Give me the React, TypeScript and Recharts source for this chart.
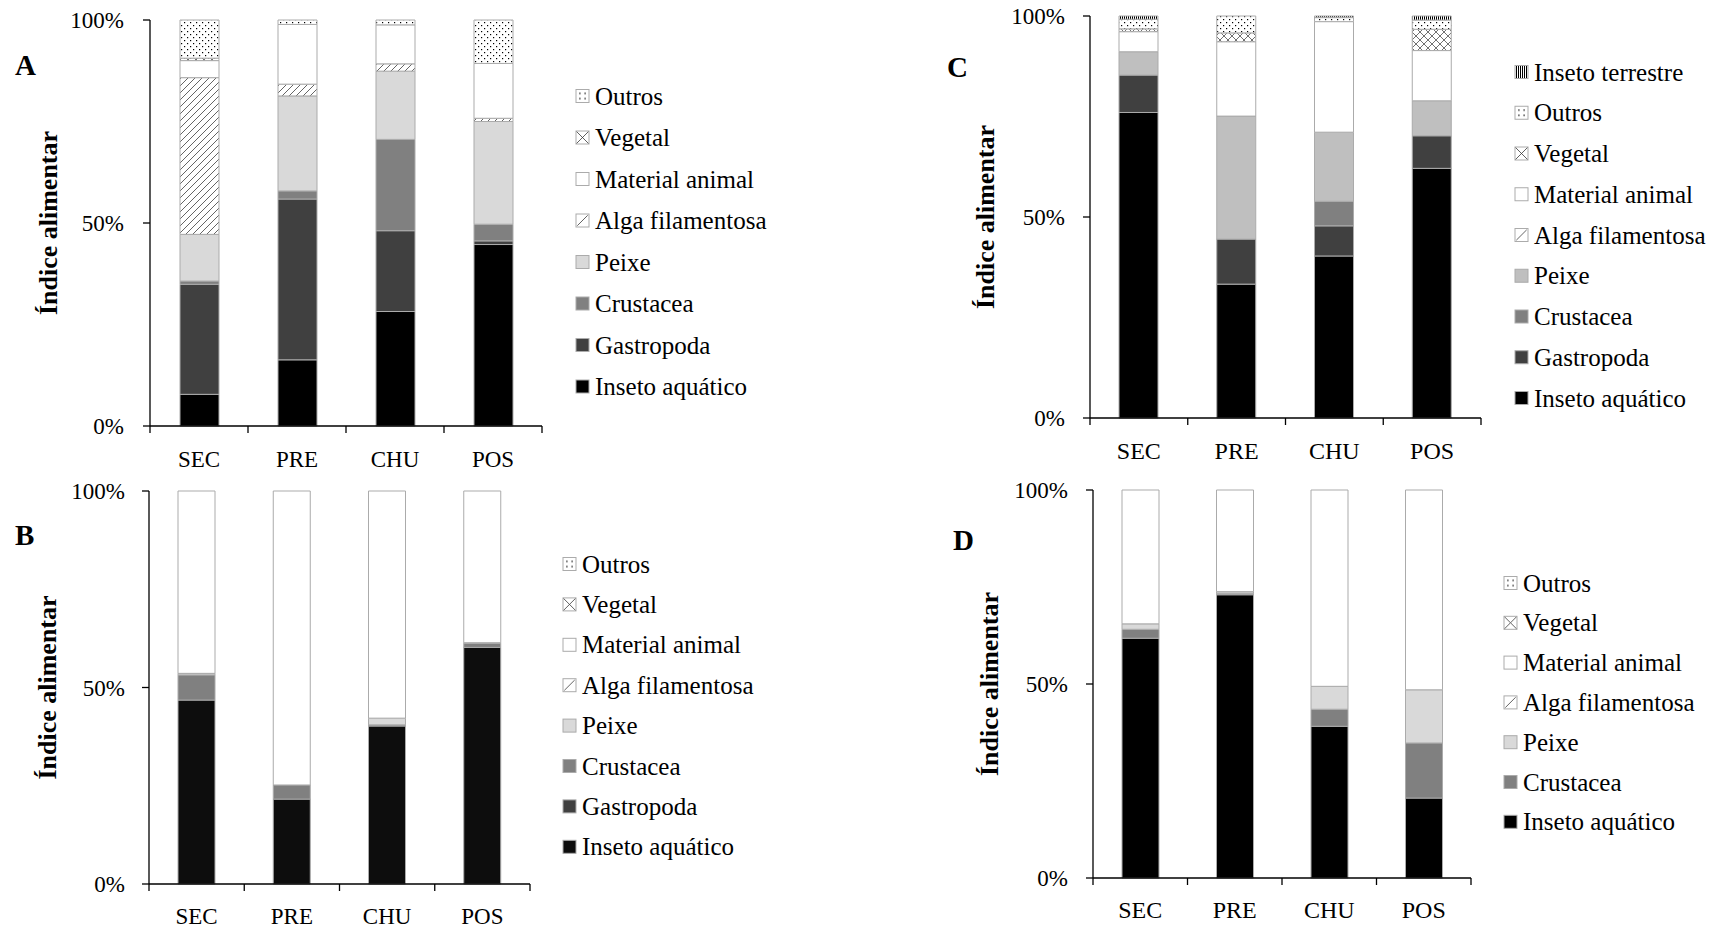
import React from 'react';
import { BarChart, Bar, XAxis, YAxis } from 'recharts';

const FONT = "'Liberation Serif', 'Times New Roman', Times, serif";

const CATEGORIES = ['SEC', 'PRE', 'CHU', 'POS'];
const Y_TICKS = [0, 50, 100];
const Y_TITLE = 'Índice alimentar';

// Panel A
const A_INSETO = [7.8, 16.3, 28.2, 44.7];
const A_GASTROPODA = [27.1, 39.6, 19.9, 0.9];
const A_CRUSTACEA = [0.8, 2.0, 22.5, 4.1];
const A_PEIXE = [11.5, 23.4, 16.8, 25.3];
const A_ALGA = [38.6, 2.9, 1.8, 0.8];
const A_MATERIAL = [4.2, 14.7, 9.6, 13.5];
const A_VEGETAL = [0.6, 0, 0, 0];
const A_OUTROS = [9.4, 1.1, 1.2, 10.7];

// Panel B
const B_INSETO = [46.8, 21.6, 40.2, 60.2];
const B_GASTROPODA = [0, 0, 0, 0];
const B_CRUSTACEA = [6.4, 3.6, 0.3, 1.0];
const B_PEIXE = [0.4, 0, 1.7, 0.2];
const B_ALGA = [0, 0, 0, 0];
const B_MATERIAL = [46.4, 74.8, 57.8, 38.6];
const B_VEGETAL = [0, 0, 0, 0];
const B_OUTROS = [0, 0, 0, 0];

// Panel C
const C_INSETO = [76.0, 33.3, 40.3, 62.1];
const C_GASTROPODA = [9.3, 11.2, 7.5, 8.1];
const C_CRUSTACEA = [0, 0, 6.1, 0];
const C_PEIXE = [5.8, 30.6, 17.2, 8.7];
const C_ALGA = [0, 0, 0, 0];
const C_MATERIAL = [5.0, 18.5, 27.5, 12.5];
const C_VEGETAL = [0.7, 2.2, 0, 5.3];
const C_OUTROS = [2.4, 4.2, 1.0, 2.3];
const C_TERRESTRE = [0.8, 0, 0.4, 1.0];

// Panel D
const D_INSETO = [61.8, 73.0, 39.1, 20.6];
const D_CRUSTACEA = [2.3, 0.4, 4.4, 14.2];
const D_PEIXE = [1.4, 0.4, 5.9, 13.7];
const D_ALGA = [0, 0, 0, 0];
const D_MATERIAL = [34.5, 26.2, 50.6, 51.5];
const D_VEGETAL = [0, 0, 0, 0];
const D_OUTROS = [0, 0, 0, 0];

const DOTS = 'url(#pat-dots)';
const CROSS = 'url(#pat-cross)';
const DIAG = 'url(#pat-diag)';
const VERT = 'url(#pat-vert)';
const EDGE = '#ababab';

type Series = { key: string; name: string; values: number[]; fill: string; legendFill?: string };

const A_SERIES: Series[] = [
  { key: 'inseto', name: 'Inseto aquático', values: A_INSETO, fill: '#000000' },
  { key: 'gastropoda', name: 'Gastropoda', values: A_GASTROPODA, fill: '#404040' },
  { key: 'crustacea', name: 'Crustacea', values: A_CRUSTACEA, fill: '#808080' },
  { key: 'peixe', name: 'Peixe', values: A_PEIXE, fill: '#d9d9d9' },
  { key: 'alga', name: 'Alga filamentosa', values: A_ALGA, fill: DIAG },
  { key: 'material', name: 'Material animal', values: A_MATERIAL, fill: '#ffffff' },
  { key: 'vegetal', name: 'Vegetal', values: A_VEGETAL, fill: CROSS },
  { key: 'outros', name: 'Outros', values: A_OUTROS, fill: DOTS },
];

const B_SERIES: Series[] = [
  { key: 'inseto', name: 'Inseto aquático', values: B_INSETO, fill: '#0d0d0d' },
  { key: 'gastropoda', name: 'Gastropoda', values: B_GASTROPODA, fill: '#404040' },
  { key: 'crustacea', name: 'Crustacea', values: B_CRUSTACEA, fill: '#808080' },
  { key: 'peixe', name: 'Peixe', values: B_PEIXE, fill: '#d9d9d9' },
  { key: 'alga', name: 'Alga filamentosa', values: B_ALGA, fill: DIAG },
  { key: 'material', name: 'Material animal', values: B_MATERIAL, fill: '#ffffff' },
  { key: 'vegetal', name: 'Vegetal', values: B_VEGETAL, fill: CROSS },
  { key: 'outros', name: 'Outros', values: B_OUTROS, fill: DOTS },
];

const C_SERIES: Series[] = [
  { key: 'inseto', name: 'Inseto aquático', values: C_INSETO, fill: '#000000' },
  { key: 'gastropoda', name: 'Gastropoda', values: C_GASTROPODA, fill: '#404040' },
  { key: 'crustacea', name: 'Crustacea', values: C_CRUSTACEA, fill: '#808080' },
  { key: 'peixe', name: 'Peixe', values: C_PEIXE, fill: '#bfbfbf' },
  { key: 'alga', name: 'Alga filamentosa', values: C_ALGA, fill: DIAG },
  { key: 'material', name: 'Material animal', values: C_MATERIAL, fill: '#ffffff' },
  { key: 'vegetal', name: 'Vegetal', values: C_VEGETAL, fill: CROSS },
  { key: 'outros', name: 'Outros', values: C_OUTROS, fill: DOTS },
  { key: 'terrestre', name: 'Inseto terrestre', values: C_TERRESTRE, fill: VERT },
];

const D_SERIES: Series[] = [
  { key: 'inseto', name: 'Inseto aquático', values: D_INSETO, fill: '#000000' },
  { key: 'crustacea', name: 'Crustacea', values: D_CRUSTACEA, fill: '#808080' },
  { key: 'peixe', name: 'Peixe', values: D_PEIXE, fill: '#d9d9d9' },
  { key: 'alga', name: 'Alga filamentosa', values: D_ALGA, fill: DIAG },
  { key: 'material', name: 'Material animal', values: D_MATERIAL, fill: '#ffffff' },
  { key: 'vegetal', name: 'Vegetal', values: D_VEGETAL, fill: CROSS },
  { key: 'outros', name: 'Outros', values: D_OUTROS, fill: DOTS },
];

const LEGEND_FILL: Record<string, string> = {
  [DIAG]: 'url(#leg-diag)',
  [CROSS]: 'url(#leg-cross)',
  [DOTS]: 'url(#leg-dots)',
};

type Panel = {
  letter: string;
  series: Series[];
  box: { left: number; top: number; width: number; height: number };
  plot: { l: number; t: number; r: number; b: number };
  barSize: number;
  yMargin: number;
  xFont: number;
  xLabelDy: number;
  titleX: number;
  letterPos: { x: number; y: number };
  legend: { x: number; y0: number; step: number };
};

const PANELS: Panel[] = [
  {
    letter: 'A', series: A_SERIES,
    box: { left: 0, top: 0, width: 560, height: 475 },
    plot: { l: 150, t: 20, r: 542, b: 426 },
    barSize: 39, yMargin: 19, xFont: 23, xLabelDy: 41, titleX: 48,
    letterPos: { x: 15, y: 75 },
    legend: { x: 576, y0: 96, step: 41.5 },
  },
  {
    letter: 'B', series: B_SERIES,
    box: { left: 0, top: 470, width: 550, height: 458 },
    plot: { l: 149, t: 491, r: 530, b: 884 },
    barSize: 37, yMargin: 17, xFont: 23, xLabelDy: 40, titleX: 47,
    letterPos: { x: 15, y: 545 },
    legend: { x: 563, y0: 564, step: 40.4 },
  },
  {
    letter: 'C', series: C_SERIES,
    box: { left: 940, top: 0, width: 560, height: 470 },
    plot: { l: 1090, t: 16, r: 1481, b: 418 },
    barSize: 39, yMargin: 18, xFont: 24, xLabelDy: 41, titleX: 985,
    letterPos: { x: 947, y: 77 },
    legend: { x: 1515, y0: 72, step: 40.75 },
  },
  {
    letter: 'D', series: D_SERIES,
    box: { left: 940, top: 470, width: 550, height: 458 },
    plot: { l: 1093, t: 490, r: 1471, b: 878 },
    barSize: 37, yMargin: 18, xFont: 24, xLabelDy: 40, titleX: 989,
    letterPos: { x: 953, y: 550 },
    legend: { x: 1504, y0: 583, step: 39.8 },
  },
];

const Y_AXIS_W = 60;
const X_AXIS_H = 44;

function buildRows(series: Series[]) {
  return CATEGORIES.map((cat, i) => {
    const row: Record<string, any> = { cat };
    series.forEach((s) => {
      row[s.key] = s.values[i];
    });
    return row;
  });
}

function PanelChart({ p }: { p: Panel }) {
  const { box, plot } = p;
  const data = buildRows(p.series);
  const margin = {
    top: plot.t - box.top,
    left: plot.l - box.left - Y_AXIS_W,
    right: box.left + box.width - plot.r,
    bottom: box.top + box.height - plot.b - X_AXIS_H,
  };
  const half = (plot.r - plot.l) / CATEGORIES.length / 2;
  const titleY = (plot.t + plot.b) / 2 - box.top;
  const titleX = p.titleX - box.left;

  const renderTick = (props: any) => {
    const { x, y, payload, index } = props;
    return (
      <g>
        <line x1={x - half} x2={x - half} y1={y} y2={y + 7} stroke="#000" strokeWidth={1.3} />
        {index === CATEGORIES.length - 1 && (
          <line x1={x + half} x2={x + half} y1={y} y2={y + 7} stroke="#000" strokeWidth={1.3} />
        )}
        <text x={x} y={y + p.xLabelDy} textAnchor="middle" fill="#000" fontSize={p.xFont} fontFamily={FONT}>
          {payload.value}
        </text>
      </g>
    );
  };

  return (
    <div style={{ position: 'absolute', left: box.left, top: box.top }}>
      <BarChart width={box.width} height={box.height} data={data} margin={margin}>
        <XAxis
          dataKey="cat"
          type="category"
          interval={0}
          height={X_AXIS_H}
          axisLine={{ stroke: '#000', strokeWidth: 1.3 }}
          tickLine={false}
          tickSize={0}
          tickMargin={0}
          tick={renderTick}
        />
        <YAxis
          type="number"
          domain={[0, 100]}
          ticks={Y_TICKS}
          width={Y_AXIS_W}
          tickSize={7}
          tickMargin={p.yMargin}
          tickFormatter={(v: number) => `${v}%`}
          axisLine={{ stroke: '#000', strokeWidth: 1.3 }}
          tickLine={{ stroke: '#000', strokeWidth: 1.3 }}
          tick={{ fill: '#000', fontSize: 23, fontFamily: FONT }}
          label={{
            content: () => (
              <text
                x={titleX}
                y={titleY}
                transform={`rotate(-90, ${titleX}, ${titleY})`}
                textAnchor="middle"
                dominantBaseline="central"
                fontFamily={FONT}
                fontWeight="bold"
                fontSize={26}
                fill="#000"
              >
                {Y_TITLE}
              </text>
            ),
          }}
        />
        {p.series.map((s) => (
          <Bar
            key={s.key}
            dataKey={s.key}
            name={s.name}
            stackId="s"
            fill={s.fill}
            stroke={EDGE}
            strokeWidth={1}
            barSize={p.barSize}
            isAnimationActive={false}
          />
        ))}
      </BarChart>
    </div>
  );
}

function Overlay() {
  return (
    <svg
      width={1718}
      height={928}
      style={{ position: 'absolute', left: 0, top: 0, pointerEvents: 'none' }}
    >
      {PANELS.map((p) => (
        <g key={p.letter}>
          <text x={p.letterPos.x} y={p.letterPos.y} fontFamily={FONT} fontWeight="bold" fontSize={29} fill="#000">
            {p.letter}
          </text>
          {[...p.series].reverse().map((s, i) => {
            const cy = p.legend.y0 + i * p.legend.step;
            const fill = LEGEND_FILL[s.fill] || s.fill;
            return (
              <g key={s.key}>
                <rect x={p.legend.x} y={cy - 6.5} width={13} height={13} fill={fill} stroke={EDGE} strokeWidth={1} />
                <text x={p.legend.x + 19} y={cy + 8.5} fontFamily={FONT} fontSize={25} fill="#000">
                  {s.name}
                </text>
              </g>
            );
          })}
        </g>
      ))}
    </svg>
  );
}

export default function App() {
  return (
    <div style={{ position: 'absolute', left: 0, top: 0, width: 1718, height: 928, background: '#fff', overflow: 'hidden' }}>
      <svg width={0} height={0} style={{ position: 'absolute' }}>
        <defs>
          <pattern id="pat-dots" width={6} height={6} patternUnits="userSpaceOnUse">
            <rect width={6} height={6} fill="#fff" />
            <rect x={1} y={1} width={1.2} height={1.2} fill="#000" />
            <rect x={4} y={4} width={1.2} height={1.2} fill="#000" />
          </pattern>
          <pattern id="pat-cross" width={8} height={8} patternUnits="userSpaceOnUse">
            <rect width={8} height={8} fill="#fff" />
            <path d="M0,0 L8,8 M8,0 L0,8" stroke="#333" strokeWidth={0.7} />
          </pattern>
          <pattern id="pat-diag" width={7} height={7} patternUnits="userSpaceOnUse">
            <rect width={7} height={7} fill="#fff" />
            <path d="M0,7 L7,0 M-1,1 L1,-1 M6,8 L8,6" stroke="#222" strokeWidth={0.7} />
          </pattern>
          <pattern id="pat-vert" width={2} height={4} patternUnits="userSpaceOnUse">
            <rect width={2} height={4} fill="#fff" />
            <rect x={0} y={0} width={1} height={4} fill="#000" />
          </pattern>
          <pattern id="leg-dots" width={1} height={1} patternUnits="objectBoundingBox" patternContentUnits="objectBoundingBox">
            <rect width={1} height={1} fill="#fff" />
            <rect x={0.25} y={0.25} width={0.1} height={0.1} fill="#000" />
            <rect x={0.65} y={0.25} width={0.1} height={0.1} fill="#000" />
            <rect x={0.25} y={0.65} width={0.1} height={0.1} fill="#000" />
            <rect x={0.65} y={0.65} width={0.1} height={0.1} fill="#000" />
          </pattern>
          <pattern id="leg-cross" width={1} height={1} patternUnits="objectBoundingBox" patternContentUnits="objectBoundingBox">
            <rect width={1} height={1} fill="#fff" />
            <path d="M0,0 L1,1 M1,0 L0,1" stroke="#333" strokeWidth={0.06} />
          </pattern>
          <pattern id="leg-diag" width={1} height={1} patternUnits="objectBoundingBox" patternContentUnits="objectBoundingBox">
            <rect width={1} height={1} fill="#fff" />
            <path d="M0.1,0.9 L0.9,0.1" stroke="#333" strokeWidth={0.06} />
          </pattern>
        </defs>
      </svg>
      {PANELS.map((p) => (
        <PanelChart key={p.letter} p={p} />
      ))}
      <Overlay />
    </div>
  );
}
